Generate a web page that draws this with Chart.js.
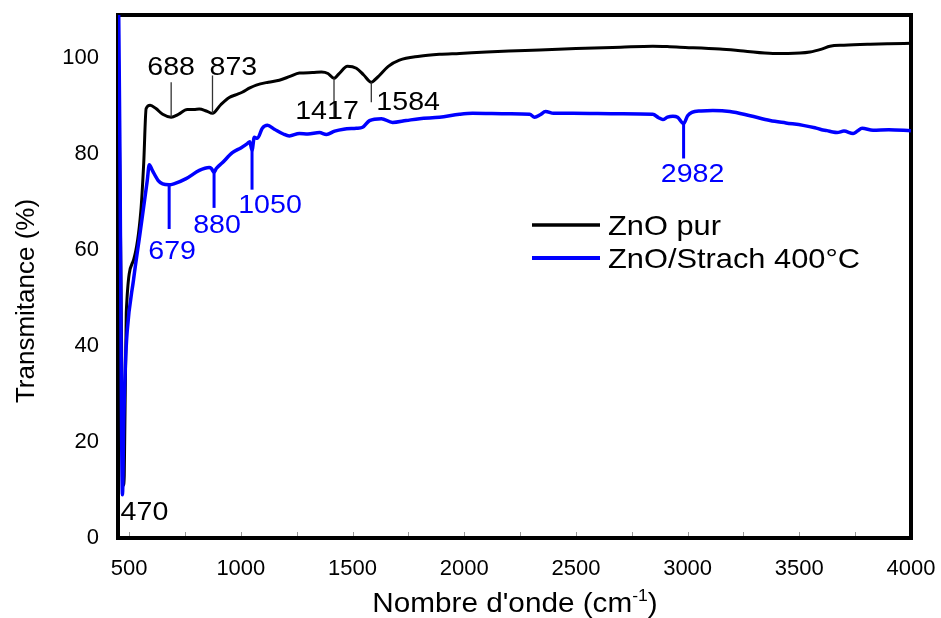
<!DOCTYPE html>
<html lang="fr">
<head>
<meta charset="UTF-8">
<title>FTIR - ZnO</title>
<style>
  * { margin: 0; padding: 0; }
  body { background: #fff; }
</style>
</head>
<body>
<canvas id="chart" width="941" height="618"></canvas>
<script src="https://cdn.jsdelivr.net/npm/chart.js@4.4.1/dist/chart.umd.min.js"></script>
<script>
  // spectre ZnO pur (nombre d'onde cm-1 / transmitance %)
  var wnPur = [450, 462, 474, 478, 487, 520, 552, 565, 576, 594, 620, 650, 688, 720, 760, 790, 814, 845, 873,
    910, 948, 980, 1006, 1040, 1069, 1123, 1172, 1220, 1262, 1320, 1361, 1390, 1417, 1440, 1477, 1517,
    1550, 1584, 1600, 1620, 1660, 1710, 1800, 1889, 1979, 2100, 2200, 2338, 2500, 2700, 2844, 2920,
    2965, 3144, 3250, 3382, 3450, 3548, 3600, 3637, 3700, 3817, 3900, 4000];
  var tPur = [110, 60, 11, 13, 47, 58, 68, 78, 89.5, 90.2, 89.5, 88.3, 87.7, 88.3, 89.3, 89.3, 89.4, 89, 88.5,
    90.3, 91.8, 92.4, 92.9, 93.8, 94.4, 95, 95.4, 96.2, 96.9, 97, 97.1, 96.8, 95.8, 96.8, 98.3, 97.9,
    96.5, 95, 95.5, 96.4, 98.3, 99.6, 100.4, 100.8, 101, 101.3, 101.5, 101.7, 102, 102.3, 102.5, 102.4,
    102.3, 101.9, 101.5, 101, 101, 101.3, 101.9, 102.5, 102.7, 102.9, 103, 103.1];

  // spectre ZnO/Strach 400°C
  var wnStr = [452, 458, 470, 476, 483, 491, 520, 550, 581, 590, 605, 630, 650, 679, 700, 755, 814, 858, 868,
    880, 890, 917, 962, 1000, 1029, 1040, 1050, 1060, 1074, 1096, 1119, 1150, 1190, 1217, 1262, 1300,
    1352, 1383, 1420, 1460, 1517, 1545, 1576, 1629, 1679, 1740, 1800, 1889, 1979, 2037, 2200, 2293,
    2315, 2340, 2364, 2400, 2486, 2700, 2844, 2870, 2889, 2910, 2934, 2955, 2982, 3000, 3019, 3060,
    3113, 3189, 3280, 3369, 3440, 3517, 3570, 3600, 3624, 3650, 3669, 3700, 3741, 3760, 3781, 3830,
    3900, 4000];
  var tStr = [115, 84, 9, 25, 36, 43, 54, 64, 74.5, 77.8, 76.5, 74.5, 73.8, 73.6, 73.8, 74.9, 76.6, 77.2, 77,
    76.2, 77, 78.2, 80.3, 81.3, 82.2, 82.6, 80.8, 83.5, 83.3, 85.4, 86, 85.2, 84.2, 83.8, 84.3, 84.2,
    84.5, 84.1, 84.8, 85.2, 85.4, 85.6, 87, 87.4, 86.6, 87, 87.4, 87.7, 88.3, 88.5, 88.4, 88.3,
    87.7, 88.2, 88.9, 88.5, 88.5, 88.4, 88.3, 87.6, 87.2, 87.7, 87.9, 87.7, 86.4, 88, 88.7, 89,
    89.1, 88.9, 88, 87, 86.5, 86, 85.5, 85.1, 84.9, 84.6, 84.5, 84.8, 84.3, 84.8, 85.4, 85,
    85.1, 84.9];

  var xTicks = [500, 1000, 1500, 2000, 2500, 3000, 3500, 4000];
  var yTicks = [0, 20, 40, 60, 80, 100];

  // bandes repérées : position, transmitance au pic, bout du trait
  var bandesPur = [688, 873, 1417, 1584];
  var picPur = [87.7, 88.5, 95.8, 95];
  var traitPur = [95, 96.4, 87.4, 90.8];

  var bandesStr = [679, 880, 1050, 2982];
  var picStr = [73.6, 76.2, 80.8, 86.4];
  var traitStr = [64.4, 68.8, 72.6, 79.1];

  var bandeMin = 470;
  var tMin = 9;

  var police = "'Liberation Sans', Arial, sans-serif";
  var bleu = '#0000ff';

  function pts(xs, ys) {
    return xs.map(function (x, i) { return { x: x, y: ys[i] }; });
  }

  // texte legerement elargi
  function texte(ctx, txt, x, y, align, size, color) {
    ctx.save();
    ctx.font = size + 'px ' + police;
    ctx.fillStyle = color;
    ctx.textAlign = align;
    ctx.textBaseline = 'alphabetic';
    ctx.translate(x, y);
    ctx.scale(1.1, 1);
    ctx.fillText(txt, 0, 0);
    ctx.restore();
  }

  var cadre = {
    id: 'cadre',
    beforeDatasetsDraw: function (chart) {
      var ctx = chart.ctx, a = chart.chartArea, xs = chart.scales.x;
      ctx.save();
      // petites graduations vers l'interieur
      ctx.strokeStyle = '#999';
      ctx.lineWidth = 1;
      for (var v = 500; v < 4000; v += 250) {
        var px = Math.round(xs.getPixelForValue(v)) + 0.5;
        ctx.beginPath();
        ctx.moveTo(px, a.bottom);
        ctx.lineTo(px, a.bottom - 6);
        ctx.stroke();
      }
      ctx.strokeStyle = '#000';
      ctx.lineWidth = 4;
      ctx.strokeRect(a.left, a.top, a.right - a.left, a.bottom - a.top);
      ctx.restore();
    }
  };

  var reperes = {
    id: 'reperes',
    afterDatasetsDraw: function (chart) {
      var ctx = chart.ctx, xs = chart.scales.x, ys = chart.scales.y;
      var stylePur = [
        { dx: 0, align: 'center', dy: -7 },
        { dx: -3, align: 'left', dy: 0 },
        { dx: -7, align: 'center', dy: 0 },
        { dx: 5, align: 'left', dy: 8 }
      ];
      var styleStr = [
        { dx: 3, align: 'center', dy: 30 },
        { dx: 3, align: 'center', dy: 25 },
        { dx: 18, align: 'center', dy: 23 },
        { dx: 9, align: 'center', dy: 24 }
      ];
      ctx.save();
      ctx.lineCap = 'butt';
      bandesPur.forEach(function (b, i) {
        var px = xs.getPixelForValue(b);
        var y1 = ys.getPixelForValue(picPur[i]), y2 = ys.getPixelForValue(traitPur[i]);
        ctx.strokeStyle = '#333';
        ctx.lineWidth = 1.3;
        ctx.beginPath(); ctx.moveTo(px, y1); ctx.lineTo(px, y2); ctx.stroke();
        var s = stylePur[i];
        texte(ctx, String(b), px + s.dx, y2 + s.dy, s.align, 26, '#000');
      });
      bandesStr.forEach(function (b, i) {
        var px = xs.getPixelForValue(b);
        var y1 = ys.getPixelForValue(picStr[i]), y2 = ys.getPixelForValue(traitStr[i]);
        ctx.strokeStyle = bleu;
        ctx.lineWidth = 3;
        ctx.beginPath(); ctx.moveTo(px, y1); ctx.lineTo(px, y2); ctx.stroke();
        var s = styleStr[i];
        texte(ctx, String(b), px + s.dx, y2 + s.dy, s.align, 26, bleu);
      });
      texte(ctx, String(bandeMin), xs.getPixelForValue(bandeMin) + 22, ys.getPixelForValue(tMin) + 25, 'center', 26, '#000');

      // legende
      var lx = 532, ly = 225;
      [['ZnO pur', '#000', 3.5], ['ZnO/Strach 400°C', bleu, 4]].forEach(function (l, i) {
        var y = ly + i * 33;
        ctx.strokeStyle = l[1];
        ctx.lineWidth = l[2];
        ctx.beginPath(); ctx.moveTo(lx, y); ctx.lineTo(lx + 68, y); ctx.stroke();
        texte(ctx, l[0], lx + 76, y + 10, 'left', 28, '#000');
      });
      ctx.restore();
    },
    afterDraw: function (chart) {
      var ctx = chart.ctx;

      // titre de l'axe y
      ctx.save();
      ctx.fillStyle = '#000';
      ctx.font = '25px ' + police;
      ctx.textAlign = 'center';
      ctx.textBaseline = 'alphabetic';
      ctx.translate(34, 301);
      ctx.rotate(-Math.PI / 2);
      ctx.scale(1.04, 1);
      ctx.fillText('Transmitance (%)', 0, 0);
      ctx.restore();

      // titre de l'axe x avec exposant
      var f = 27, sx = 1.1;
      var t1 = "Nombre d'onde (cm", sup = '-1', t2 = ')';
      ctx.save();
      ctx.fillStyle = '#000';
      ctx.textBaseline = 'alphabetic';
      ctx.font = f + 'px ' + police;
      var w1 = ctx.measureText(t1).width, w3 = ctx.measureText(t2).width;
      ctx.font = '16px ' + police;
      var w2 = ctx.measureText(sup).width;
      var total = (w1 + w2 + w3) * sx;
      var x0 = 515 - total / 2, base = 612;
      ctx.translate(x0, base);
      ctx.scale(sx, 1);
      ctx.font = f + 'px ' + police;
      ctx.fillText(t1, 0, 0);
      ctx.font = '16px ' + police;
      ctx.fillText(sup, w1, -11);
      ctx.font = f + 'px ' + police;
      ctx.fillText(t2, w1 + w2, 0);
      ctx.restore();
    }
  };

  function etiquette(v) { return String(v); }

  var ctx = document.getElementById('chart').getContext('2d');
  var myChart = new Chart(ctx, {
    type: 'line',
    data: {
      datasets: [{
        label: 'ZnO pur',
        data: pts(wnPur, tPur),
        borderColor: '#000',
        borderWidth: 3,
        order: 1
      }, {
        // ordre le plus bas = trace par-dessus
        label: 'ZnO/Strach 400°C',
        data: pts(wnStr, tStr),
        borderColor: bleu,
        borderWidth: 3.5,
        order: 0
      }]
    },
    options: {
      responsive: false,
      animation: false,
      devicePixelRatio: 1,
      layout: { padding: { top: 15, right: 30, left: 0, bottom: 0 } },
      elements: {
        point: { radius: 0 },
        line: { cubicInterpolationMode: 'monotone', fill: false }
      },
      plugins: {
        legend: { display: false },
        tooltip: { enabled: false }
      },
      scales: {
        x: {
          type: 'linear',
          min: 450,
          max: 4000,
          grid: { display: false, drawTicks: false },
          border: { display: false },
          ticks: { color: '#000', font: { size: 22, family: police }, padding: 18, maxRotation: 0, callback: etiquette },
          afterBuildTicks: function (s) { s.ticks = xTicks.map(function (v) { return { value: v }; }); },
          afterFit: function (s) { s.height = 80; s.paddingLeft = 0; s.paddingRight = 0; }
        },
        y: {
          min: 0,
          max: 109,
          grid: { display: false, drawTicks: false },
          border: { display: false },
          ticks: { color: '#000', font: { size: 22, family: police }, padding: 19, callback: etiquette },
          afterBuildTicks: function (s) { s.ticks = yTicks.map(function (v) { return { value: v }; }); },
          afterFit: function (s) { s.width = 118; s.paddingTop = 0; s.paddingBottom = 0; }
        }
      }
    },
    plugins: [cadre, reperes]
  });
</script>
</body>
</html>
